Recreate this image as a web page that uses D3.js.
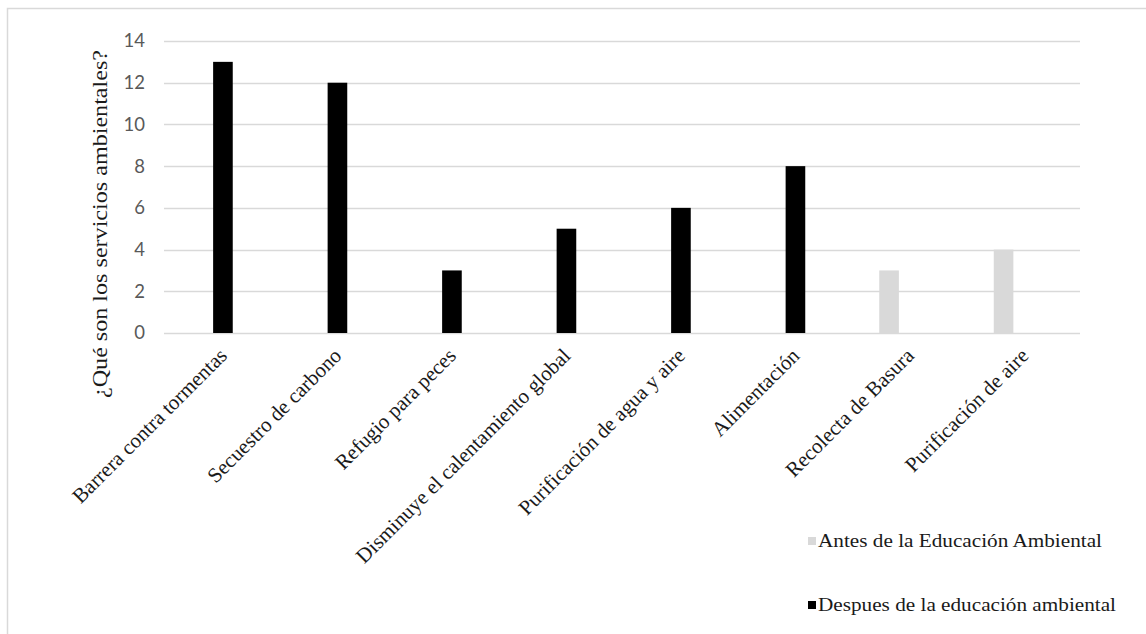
<!DOCTYPE html>
<html>
<head>
<meta charset="utf-8">
<script src="https://cdn.jsdelivr.net/npm/d3@7"></script>
<style>
  html, body { margin: 0; padding: 0; background: #fff; }
  svg { display: block; }
</style>
</head>
<body>
<svg id="chart" width="1146" height="634"></svg>
<script>
const categories = [
  "Barrera contra tormentas",
  "Secuestro de carbono",
  "Refugio para peces",
  "Disminuye el calentamiento global",
  "Purificación de agua y aire",
  "Alimentación",
  "Recolecta de Basura",
  "Purificación de aire"
];
const seriesNames = ["Antes de la Educación Ambiental", "Despues de la educación ambiental"];
const antesValues = [null, null, null, null, null, null, 3, 4];
const despuesValues = [13, 12, 3, 5, 6, 8, null, null];
const yTicks = [0, 2, 4, 6, 8, 10, 12, 14];
const yTitle = "¿Qué son los servicios ambientales?";

const colors = { [seriesNames[0]]: "#d9d9d9", [seriesNames[1]]: "#000000" };

const svg = d3.select("#chart");

// chart border
svg.append("rect")
  .attr("x", 7.5).attr("y", 8.5)
  .attr("width", 1160).attr("height", 640)
  .attr("fill", "none").attr("stroke", "#d9d9d9").attr("stroke-width", 1.5);

const plot = { left: 164, right: 1080, top: 41, bottom: 333 };

const x = d3.scaleBand().domain(categories).range([plot.left, plot.right]).padding(0);
const x1 = d3.scaleBand().domain(seriesNames).range([-29, 11.5]).paddingInner(0.06);
const y = d3.scaleLinear().domain([0, 14]).range([plot.bottom, plot.top]);

// gridlines
svg.append("g")
  .selectAll("line")
  .data(yTicks)
  .join("line")
  .attr("x1", plot.left).attr("x2", plot.right)
  .attr("y1", d => Math.round(y(d)) + 0.5).attr("y2", d => Math.round(y(d)) + 0.5)
  .attr("stroke", "#d9d9d9").attr("stroke-width", 1.3);

// y axis labels
const yAxis = d3.axisLeft(y).tickValues(yTicks).tickSize(0).tickPadding(0);
const yg = svg.append("g").attr("transform", `translate(145,0)`).call(yAxis);
yg.select(".domain").remove();
yg.selectAll("text")
  .attr("fill", "#595959")
  .attr("font-family", "Lato, 'Open Sans', sans-serif")
  .attr("font-size", 18.5);

// bars
const data = [];
categories.forEach((c, i) => {
  data.push({ cat: c, series: seriesNames[0], value: antesValues[i] });
  data.push({ cat: c, series: seriesNames[1], value: despuesValues[i] });
});
const center = c => x(c) + x.bandwidth() / 2;

svg.append("g")
  .selectAll("rect")
  .data(data.filter(d => d.value != null))
  .join("rect")
  .attr("x", d => center(d.cat) + x1(d.series))
  .attr("width", x1.bandwidth())
  .attr("y", d => y(d.value))
  .attr("height", d => y(0) - y(d.value))
  .attr("fill", d => colors[d.series]);

// category labels
svg.append("g")
  .selectAll("text")
  .data(categories)
  .join("text")
  .attr("transform", d => `translate(${center(d) + 7},${357}) rotate(-45)`)
  .attr("text-anchor", "end")
  .attr("font-family", "'Liberation Serif', 'Times New Roman', serif")
  .attr("font-size", 21)
  .attr("fill", "#1a1a1a")
  .text(d => d);

// y title
svg.append("text")
  .attr("transform", `translate(107,224) rotate(-90)`)
  .attr("text-anchor", "middle")
  .attr("font-family", "'Liberation Serif', 'Times New Roman', serif")
  .attr("font-size", 21)
  .attr("fill", "#1a1a1a")
  .attr("textLength", 348)
  .attr("lengthAdjust", "spacingAndGlyphs")
  .text(yTitle);

// legend
const legendY = [541, 605];
const lg = svg.append("g").selectAll("g").data(seriesNames).join("g")
  .attr("transform", (d, i) => `translate(808,${legendY[i]})`);
lg.append("rect")
  .attr("x", 0).attr("y", -4).attr("width", 8).attr("height", 8)
  .attr("fill", d => colors[d]);
lg.append("text")
  .attr("x", 10).attr("y", 6)
  .attr("font-family", "'Liberation Serif', 'Times New Roman', serif")
  .attr("font-size", 19.5)
  .attr("fill", "#1a1a1a")
  .attr("textLength", (d, i) => i === 0 ? 284 : 298)
  .attr("lengthAdjust", "spacingAndGlyphs")
  .text(d => d);
</script>
</body>
</html>
